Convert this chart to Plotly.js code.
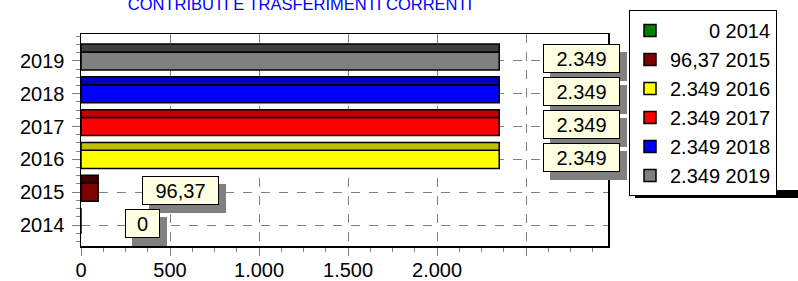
<!DOCTYPE html>
<html><head><meta charset="utf-8">
<script src="https://cdn.plot.ly/plotly-3.0.1.min.js"></script>
<style>html,body{margin:0;padding:0;background:#fff}#c{width:798px;height:281px}</style>
</head><body><div id="c"></div>
<script>
const years = [2014, 2015, 2016, 2017, 2018, 2019];
const values = [0, 96.37, 2349, 2349, 2349, 2349];
const valueLabels = ['0', '96,37', '2.349', '2.349', '2.349', '2.349'];
const frontColors = ['#008000', '#800000', '#FFFF00', '#FF0000', '#0000FF', '#808080'];
const topColors = ['#004000', '#400000', '#C0C000', '#C00000', '#0000C0', '#404040'];
const xTickVals = [0, 500, 1000, 1500, 2000, 2500];
const xTickText = ['0', '500', '1.000', '1.500', '2.000', ''];
const titleText = 'CONTRIBUTI E TRASFERIMENTI CORRENTI';

const F = 'Liberation Sans, Arial, sans-serif';
// width units: digits = 2, punctuation / nbsp = 1 (Arial metrics)
const units = s => [...s].reduce((a, ch) => a + (/[0-9]/.test(ch) ? 2 : 1), 0);
const maxU = Math.max(...valueLabels.map(units));
const padLabel = s => '\u00A0'.repeat(maxU - units(s)) + s;

const traces = [];
years.forEach((yr, i) => {
  traces.push({
    type: 'bar', orientation: 'h', x: [values[i]], y: [yr],
    width: 0.55, offset: -0.275,
    marker: {color: frontColors[i], line: {color: '#000', width: 1.5}},
    name: padLabel(valueLabels[i]) + '\u00A0' + yr, legendgroup: 'g' + i,
    hoverinfo: 'skip'
  });
});
years.forEach((yr, i) => {
  traces.push({
    type: 'bar', orientation: 'h', x: [values[i]], y: [yr],
    width: 0.24, offset: 0.275,
    marker: {color: topColors[i], line: {color: '#000', width: 1.5}},
    showlegend: false, hoverinfo: 'skip'
  });
});

const annotations = [];
years.forEach((yr, i) => {
  const w = valueLabels[i].length <= 1 ? 27 : 69;
  annotations.push({
    x: values[i], y: yr, xref: 'x', yref: 'y', text: valueLabels[i], showarrow: false,
    xanchor: 'left', yanchor: 'middle', xshift: 51, yshift: -6, width: w, height: 21,
    bgcolor: '#808080', borderpad: 3, borderwidth: 1, bordercolor: '#808080',
    font: {family: F, size: 20, color: '#808080'}
  });
});
years.forEach((yr, i) => {
  const w = valueLabels[i].length <= 1 ? 27 : 69;
  annotations.push({
    x: values[i], y: yr, xref: 'x', yref: 'y', text: valueLabels[i], showarrow: false,
    xanchor: 'left', yanchor: 'middle', xshift: 44, yshift: 2, width: w, height: 21,
    bgcolor: '#FFFFE1', borderpad: 3, borderwidth: 1, bordercolor: '#000',
    font: {family: F, size: 20, color: '#000'}
  });
});

const layout = {
  width: 798, height: 281,
  margin: {l: 81, r: 190, t: 34, b: 35},
  paper_bgcolor: '#fff', plot_bgcolor: '#fff',
  barmode: 'overlay',
  title: {text: titleText, font: {family: F, size: 16.5, color: '#0000FF'},
          xref: 'container', x: 300/798, xanchor: 'center',
          yref: 'container', y: 1 - 10/281, yanchor: 'bottom'},
  xaxis: {range: [0, 2960], tickvals: xTickVals, ticktext: xTickText,
          showline: true, linecolor: '#000', linewidth: 1.5, mirror: true,
          ticks: 'outside', ticklen: 8, tickcolor: '#808080',
          showgrid: true, gridcolor: '#808080', griddash: 'dash', gridwidth: 1,
          zeroline: false, ticklabelstandoff: -3,
          minor: {dtick: 125, ticks: 'outside', ticklen: 4, tickcolor: '#808080', showgrid: false},
          tickfont: {family: F, size: 20, color: '#000'}, fixedrange: true},
  yaxis: {range: [2013.36, 2019.82], tickvals: years, ticktext: years.map(String),
          showline: true, linecolor: '#000', linewidth: 1.5, mirror: true,
          ticks: 'outside', ticklen: 8, tickcolor: '#808080',
          showgrid: true, gridcolor: '#808080', griddash: 'dash', gridwidth: 1,
          zeroline: false, ticklabelstandoff: 3,
          minor: {dtick: 0.25, tick0: 2014, ticks: 'outside', ticklen: 4, tickcolor: '#808080', showgrid: false},
          tickfont: {family: F, size: 20, color: '#000'}, fixedrange: true},
  legend: {xref: 'container', yref: 'container', x: 629/798, y: 1 - 10/281,
           xanchor: 'left', yanchor: 'top', bgcolor: '#fff', bordercolor: '#000', borderwidth: 1,
           font: {family: F, size: 20, color: '#000'}, traceorder: 'normal', tracegroupgap: 1,
           itemwidth: 30, maxheight: 1},
  annotations: annotations,
  shapes: [{type: 'rect', xref: 'paper', yref: 'paper',
            x0: (635 - 81)/527, x1: (805 - 81)/527, y0: (246 - 198)/212, y1: (246 - 190)/212,
            fillcolor: '#000', line: {width: 0}, layer: 'below'}]
};
Plotly.newPlot('c', traces, layout, {displayModeBar: false, staticPlot: true});
</script></body></html>
